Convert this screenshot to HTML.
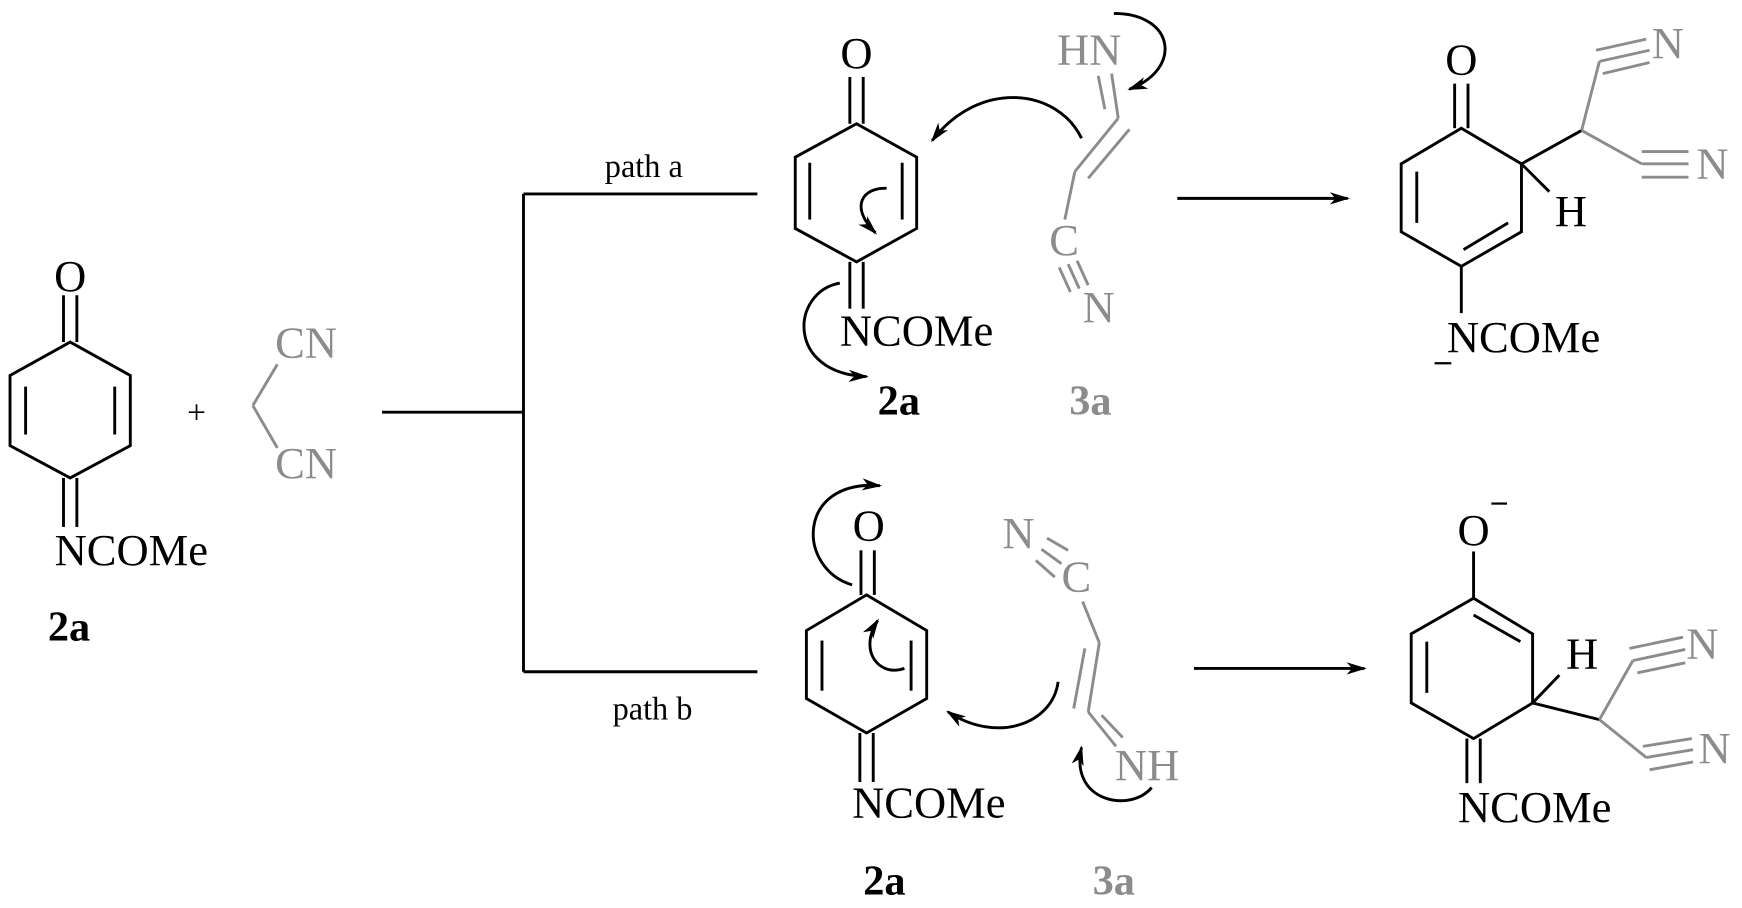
<!DOCTYPE html>
<html><head><meta charset="utf-8"><style>
html,body{margin:0;padding:0;background:#fff;}
svg{display:block;}
text{font-family:"Liberation Serif",serif;}
</style></head><body>
<svg width="1742" height="908" viewBox="0 0 1564 815" xmlns="http://www.w3.org/2000/svg">
<defs>
<marker id="ah2" viewBox="0 0 18 12" refX="16" refY="6" markerWidth="18" markerHeight="12" orient="auto" markerUnits="userSpaceOnUse">
<path d="M0,0.5 L18,6 L0,11.5 L5,6 z" fill="#000"/></marker>
</defs>
<g stroke="#000" stroke-width="2.6" fill="none">
<!-- left 2a -->
<path d="M63,307 L117,337 L117,400 L63,429 L9,400 L9,337 Z"/>
<line x1="23" y1="347" x2="23" y2="390"/><line x1="103" y1="347" x2="103" y2="390"/>
<line x1="57" y1="265" x2="57" y2="307"/><line x1="69" y1="265" x2="69" y2="307"/>
<line x1="57" y1="429" x2="57" y2="473"/><line x1="69" y1="429" x2="69" y2="473"/>
<!-- connectors -->
<line x1="343" y1="370" x2="470" y2="370"/>
<line x1="470" y1="174" x2="470" y2="603"/>
<line x1="470" y1="174" x2="680" y2="174"/>
<line x1="470" y1="603" x2="680" y2="603"/>
<!-- top 2a -->
<path d="M769,111 L823,141 L823,205 L769,235 L714,205 L714,141 Z"/>
<line x1="727" y1="146" x2="727" y2="197"/><line x1="810" y1="146" x2="810" y2="197"/>
<line x1="763" y1="69" x2="763" y2="111"/><line x1="775" y1="69" x2="775" y2="111"/>
<line x1="763" y1="235" x2="763" y2="277"/><line x1="775" y1="235" x2="775" y2="277"/>
<path d="M796,169 C775,168 762,185 786,209" marker-end="url(#ah2)"/>
<path d="M971,124 C950,80 880,70 837,126" marker-end="url(#ah2)"/>
<path d="M1000,12 C1055,12 1062,62 1014,80" marker-end="url(#ah2)"/>
<path d="M754,254 C710,262 705,335 778,338" marker-end="url(#ah2)"/>
<!-- bottom 2a -->
<path d="M778,534 L832,566 L832,627 L778,658 L724,627 L724,566 Z"/>
<line x1="738" y1="575" x2="738" y2="620"/><line x1="818" y1="575" x2="818" y2="620"/>
<line x1="773" y1="494" x2="773" y2="534"/><line x1="785" y1="494" x2="785" y2="534"/>
<line x1="772" y1="658" x2="772" y2="702"/><line x1="784" y1="658" x2="784" y2="702"/>
<path d="M765,525 C715,510 715,430 790,436" marker-end="url(#ah2)"/>
<path d="M812,600 C790,608 770,585 788,557" marker-end="url(#ah2)"/>
<path d="M950,612 C945,650 895,668 851,639" marker-end="url(#ah2)"/>
<path d="M1034,707 C1015,730 960,720 971,671" marker-end="url(#ah2)"/>
<!-- arrows -->
<line x1="1057" y1="178" x2="1210" y2="178" marker-end="url(#ah2)"/>
<line x1="1072" y1="600" x2="1225" y2="600" marker-end="url(#ah2)"/>
<!-- top product -->
<path d="M1312,115 L1366,147 L1366,208 L1312,239 L1258,208 L1258,147 Z"/>
<line x1="1272" y1="154" x2="1272" y2="200"/>
<line x1="1314" y1="224" x2="1354" y2="200"/>
<line x1="1306" y1="75" x2="1306" y2="115"/><line x1="1318" y1="75" x2="1318" y2="115"/>
<line x1="1312" y1="239" x2="1312" y2="281"/>
<line x1="1366" y1="147" x2="1391" y2="172"/>
<line x1="1366" y1="147" x2="1420" y2="117"/>
<line x1="1288" y1="326" x2="1303" y2="326" stroke-width="2"/>
<!-- bottom product -->
<path d="M1323,537 L1376,569 L1376,631 L1323,663 L1267,631 L1267,569 Z"/>
<line x1="1281" y1="576" x2="1281" y2="622"/>
<line x1="1323" y1="552" x2="1365" y2="576"/>
<line x1="1323" y1="495" x2="1323" y2="537"/>
<line x1="1317" y1="663" x2="1317" y2="703"/><line x1="1329" y1="663" x2="1329" y2="703"/>
<line x1="1376" y1="631" x2="1400" y2="606"/>
<line x1="1376" y1="631" x2="1436" y2="646"/>
<line x1="1339" y1="452" x2="1353" y2="452" stroke-width="2"/>
</g>
<g stroke="#8c8c8c" stroke-width="2.6" fill="none">
<line x1="249" y1="327" x2="227" y2="364"/><line x1="227" y1="364" x2="249" y2="402"/>
<!-- top 3a -->
<line x1="986" y1="68" x2="992" y2="98"/><line x1="998" y1="66" x2="1004" y2="106"/>
<line x1="1004" y1="106" x2="965" y2="154"/><line x1="1014" y1="116" x2="977" y2="160"/>
<line x1="965" y1="154" x2="956" y2="197"/>
<line x1="951" y1="240" x2="961" y2="262"/><line x1="959" y1="237" x2="969" y2="259"/><line x1="967" y1="234" x2="977" y2="256"/>
<!-- bottom 3a -->
<line x1="940" y1="483" x2="959" y2="494"/><line x1="935" y1="493" x2="953" y2="506"/><line x1="930" y1="503" x2="947" y2="518"/>
<line x1="972" y1="540" x2="987" y2="577"/>
<line x1="987" y1="577" x2="977" y2="639"/><line x1="974" y1="582" x2="964" y2="636"/>
<line x1="977" y1="639" x2="1002" y2="670"/><line x1="989" y1="642" x2="1008" y2="662"/>
<!-- product side chains -->
<line x1="1420" y1="117" x2="1436" y2="55"/>
<line x1="1433" y1="45" x2="1478" y2="35"/><line x1="1436" y1="55" x2="1481" y2="45"/><line x1="1439" y1="66" x2="1481" y2="56"/>
<line x1="1420" y1="117" x2="1474" y2="147"/>
<line x1="1474" y1="136" x2="1516" y2="136"/><line x1="1474" y1="147" x2="1516" y2="147"/><line x1="1474" y1="159" x2="1516" y2="159"/>
<line x1="1436" y1="646" x2="1466" y2="593"/>
<line x1="1463" y1="582" x2="1511" y2="572"/><line x1="1466" y1="593" x2="1513" y2="583"/><line x1="1470" y1="604" x2="1513" y2="595"/>
<line x1="1436" y1="646" x2="1478" y2="680"/>
<line x1="1475" y1="670" x2="1519" y2="663"/><line x1="1478" y1="680" x2="1520" y2="673"/><line x1="1481" y1="691" x2="1520" y2="684"/>
</g>
<g font-size="40" fill="#000">
<text x="63" y="261" text-anchor="middle">O</text>
<text x="49" y="507">NCOMe</text>
<text x="769" y="61" text-anchor="middle">O</text>
<text x="754" y="310">NCOMe</text>
<text x="780" y="485" text-anchor="middle">O</text>
<text x="765" y="734">NCOMe</text>
<text x="1312" y="67" text-anchor="middle">O</text>
<text x="1299" y="316">NCOMe</text>
<text x="1396" y="203">H</text>
<text x="1323" y="489" text-anchor="middle">O</text>
<text x="1309" y="738">NCOMe</text>
<text x="1406" y="600">H</text>
<text x="168" y="380" font-size="30">+</text>
</g>
<g font-size="40" fill="#8c8c8c">
<text x="247" y="321">CN</text>
<text x="247" y="429">CN</text>
<text x="949" y="58">HN</text>
<text x="942" y="229">C</text>
<text x="972" y="289">N</text>
<text x="900" y="492">N</text>
<text x="953" y="531">C</text>
<text x="1001" y="700">NH</text>
<text x="1483" y="52">N</text>
<text x="1523" y="160">N</text>
<text x="1514" y="591">N</text>
<text x="1525" y="685">N</text>
</g>
<g font-size="38" font-weight="bold">
<text x="43" y="575" fill="#000">2a</text>
<text x="788" y="372" fill="#000">2a</text>
<text x="775" y="803" fill="#000">2a</text>
<text x="960" y="372" fill="#8c8c8c">3a</text>
<text x="981" y="803" fill="#8c8c8c">3a</text>
</g>
<g font-size="29" fill="#000">
<text x="543" y="159">path a</text>
<text x="550" y="646">path b</text>
</g>
</svg>
</body></html>
